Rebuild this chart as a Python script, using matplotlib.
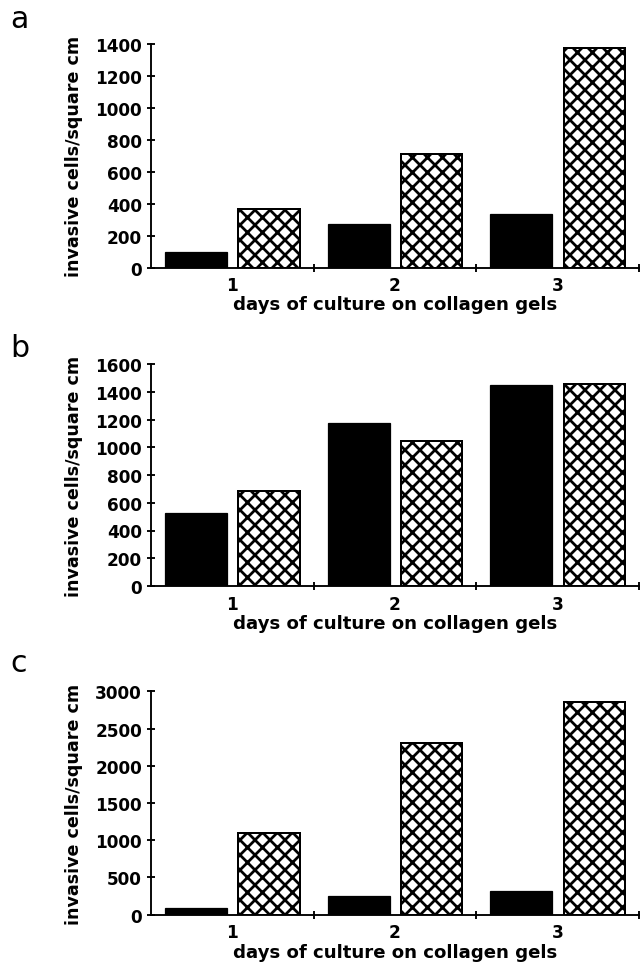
import numpy as np
import matplotlib
matplotlib.use('Agg')
import matplotlib.pyplot as plt

plt.rcParams['font.family'] = ['DejaVu Sans']
plt.rcParams['hatch.linewidth'] = 2.2

days = [1, 2, 3]
day_labels = ['1', '2', '3']

a_solid = [94, 270, 334]
a_hatched = [366, 712, 1373]
b_solid = [524, 1172, 1451]
b_hatched = [688, 1047, 1458]
c_solid = [85, 255, 313]
c_hatched = [1100, 2300, 2860]

a_ticks = [0, 200, 400, 600, 800, 1000, 1200, 1400]
b_ticks = [0, 200, 400, 600, 800, 1000, 1200, 1400, 1600]
c_ticks = [0, 500, 1000, 1500, 2000, 2500, 3000]

panel_letters = ['a', 'b', 'c']

DPI = 90
W, H = 642, 965


def draw_panel(ax, solid, hatched, yticks):
    x = np.array(days)
    ax.bar(x - 0.223, solid, width=0.38, color='black', edgecolor='black', linewidth=1.0)
    ax.bar(x + 0.225, hatched, width=0.376, color='white', edgecolor='black',
           linewidth=1.6, hatch='xx')
    ax.set_xlim(0.5, 3.5)
    ax.set_ylim(0, yticks[-1])
    ax.set_yticks(yticks)
    ax.set_xticks(days)
    ax.set_xticklabels(day_labels)
    ax.set_xticks([1.5, 2.5, 3.5], minor=True)
    for side in ['top', 'right']:
        ax.spines[side].set_visible(False)
    for side in ['left', 'bottom']:
        ax.spines[side].set_linewidth(1.5)
    ax.tick_params(axis='y', direction='inout', length=6.5, width=1.5, pad=4,
                   labelsize=13.5)
    ax.tick_params(axis='x', which='major', length=0, pad=7, labelsize=13.5)
    ax.tick_params(axis='x', which='minor', direction='inout', length=6.5, width=1.5)
    for lbl in ax.get_xticklabels() + ax.get_yticklabels():
        lbl.set_fontweight('bold')
    ax.set_xlabel('days of culture on collagen gels', fontsize=14.5, fontweight='bold',
                  labelpad=1)
    ax.set_ylabel('invasive cells/square cm', fontsize=14, fontweight='bold', va='center')
    ax.yaxis.set_label_coords(-0.157, 0.5)


fig = plt.figure(figsize=(W / DPI, H / DPI), dpi=DPI)

# axes boxes measured in pixels from the reference (top, bottom of plot area)
boxes = [(45, 268.5), (365, 587), (692.3, 915.7)]
letter_base = [28.3, 357, 672]
data = [(a_solid, a_hatched, a_ticks), (b_solid, b_hatched, b_ticks),
        (c_solid, c_hatched, c_ticks)]

for (top, bottom), (solid, hatched, yt), letter, base in zip(boxes, data, panel_letters, letter_base):
    ax = fig.add_axes([151 / W, (H - bottom) / H, 488 / W, (bottom - top) / H])
    draw_panel(ax, solid, hatched, yt)
    fig.text(10 / W, (H - base) / H, letter, fontsize=24, ha='left', va='baseline')

fig.savefig('out.png', dpi=DPI)
